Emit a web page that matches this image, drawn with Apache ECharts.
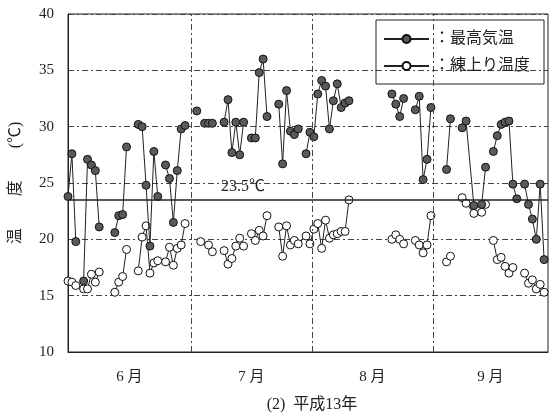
<!DOCTYPE html>
<html>
<head>
<meta charset="utf-8">
<script src="https://cdn.jsdelivr.net/npm/echarts@6/dist/echarts.min.js"></script>
<style>
  html, body { margin: 0; padding: 0; background: #fff; }
  #temp_chart { width: 550px; height: 420px; }
</style>
</head>
<body>
<div id="temp_chart"></div>
<script>
// 日付は5/31を0とした通し番号、null は欠測（線を切る）
var hiDays = [
    0, 1, 2, 3,
    4, 5, 6, 7, 8, 9,
    12, 13, 14, 15, 16,
    18, 19, 20, 21, 22, 23, 24,
    25, 26, 27, 28, 29, 30, 31,
    33, 34,
    35, 36, 37, 38,
    40, 41, 42, 43, 44, 45, 46,
    47, 48, 49, 50, 51, 52,
    54, 55, 56, 57, 58, 59, 60,
    61, 62, 63, 64, 65, 66, 67, 68, 69, 70, 71, 72, 73,
    83, 84, 85, 86, 87,
    89, 90, 91, 92, 93, 94,
    97, 98, 99,
    101, 102, 104, 106, 107, 108,
    109, 110, 111, 112, 113, 114, 115, 116,
    117, 118, 119, 120, 121, 122
];
var hiTemps = [
    23.8, 27.6, 19.8, null,
    16.3, 27.1, 26.6, 26.1, 21.1, null,
    20.6, 22.1, 22.2, 28.2, null,
    30.2, 30.0, 24.8, 19.4, 27.8, 23.8, null,
    26.6, 25.4, 21.5, 26.1, 29.8, 30.1, null,
    31.4, null,
    30.3, 30.3, 30.3, null,
    30.4, 32.4, 27.7, 30.4, 27.5, 30.4, null,
    29.0, 29.0, 34.8, 36.0, 30.9, null,
    32.0, 26.7, 33.2, 29.6, 29.3, 29.8, null,
    27.6, 29.5, 29.1, 32.9, 34.1, 33.6, 29.8, 32.3, 33.8, 31.7, 32.1, 32.3, null,
    32.9, 32.0, 30.9, 32.5, null,
    31.5, 32.7, 25.3, 27.1, 31.7, null,
    26.2, 30.7, null,
    29.9, 30.5, 23.0, 23.1, 26.4, null,
    27.8, 29.2, 30.2, 30.4, 30.5, 24.9, 23.6, null,
    24.9, 23.1, 21.8, 20.0, 24.9, 18.2
];
var mixDays = [
    0, 1, 2, 4, 5, 6, 7, 8, 9,
    12, 13, 14, 15, 16,
    18, 19, 20, 21, 22, 23, 24,
    25, 26, 27, 28, 29, 30, 31,
    34, 36, 37, 38,
    40, 41, 42, 43, 44, 45, 46,
    47, 48, 49, 50, 51, 52,
    54, 55, 56, 57, 58, 59, 61, 62, 63, 64, 65, 66, 67, 68, 69, 70, 71, 72, 73,
    83, 84, 85, 86, 87,
    89, 90, 91, 92, 93, 94,
    97, 98, 99,
    101, 102, 104, 106, 107, 108,
    109, 110, 111, 112, 113, 114, 115,
    117, 118, 119, 120, 121, 122
];
var mixTemps = [
    16.3, 16.2, 15.9, 15.6, 15.6, 16.9, 16.2, 17.1, null,
    15.3, 16.2, 16.7, 19.1, null,
    17.2, 20.2, 21.2, 17.0, 17.9, 18.1, null,
    18.0, 19.3, 17.7, 19.2, 19.5, 21.4, null,
    19.8, 19.5, 18.9, null,
    19.0, 17.8, 18.3, 19.4, 20.1, 19.4, null,
    20.5, 19.9, 20.8, 20.3, 22.1, null,
    21.1, 18.5, 21.2, 19.5, 19.9, 19.6, 20.3, 19.6, 20.9, 21.4, 19.2, 21.7, 20.1, 20.4, 20.5, 20.7, 20.7, 23.5, null,
    20.0, 20.4, 20.0, 19.6, null,
    19.9, 19.5, 18.8, 19.5, 22.1, null,
    18.0, 18.5, null,
    23.7, 23.2, 22.3, 22.4, 23.1, null,
    19.9, 18.2, 18.4, 17.6, 17.0, 17.5, null,
    17.0, 16.1, 16.4, 15.6, 16.0, 15.3
];
var monthNames = ['6 月', '7 月', '8 月', '9 月'];
var monthEdges = [31.5, 62.5, 93.5];   // 月の境目
var dayMax = 123;
var refTemp = 23.5;
var yTicks = [10, 15, 20, 25, 30, 35, 40];

var FONT = "'Liberation Serif', 'Noto Sans CJK JP', serif";

// 月ラベルは各月の中央に置く
var bounds = [0].concat(monthEdges, [dayMax]);
var monthCenters = monthNames.map(function (m, i) {
    return (bounds[i] + bounds[i + 1]) / 2;
});

var toPts = function (days, temps) {
    return days.map(function (d, i) { return [d, temps[i]]; });
};

var myChart = echarts.init(document.getElementById('temp_chart'));

var option = {
    backgroundColor: '#fff',
    animation: false,
    textStyle: { fontFamily: FONT },
    title: {
        text: '(2)  平成13年',
        left: 307,
        textAlign: 'center',
        bottom: 2,
        textStyle: { fontFamily: FONT, fontWeight: 'normal', fontSize: 16, color: '#222' }
    },
    legend: {
        left: 376,
        top: 20,
        orient: 'vertical',
        borderColor: '#222',
        borderWidth: 1,
        padding: [11, 14, 10, 7],
        itemGap: 11,
        itemWidth: 45,
        itemHeight: 10,
        formatter: '：{name}',
        textStyle: { fontFamily: FONT, fontSize: 16, color: '#222' },
        data: ['最高気温', '練上り温度']
    },
    grid: {
        left: 66,
        right: 2,
        top: 14,
        bottom: 68,
        show: true,
        borderColor: '#222',
        borderWidth: 1
    },
    xAxis: {
        type: 'value',
        min: 0,
        max: dayMax,
        axisLine: { lineStyle: { color: '#222', width: 1 } },
        axisTick: {
            show: true,
            inside: true,
            length: 6,
            customValues: monthEdges,
            lineStyle: { color: '#222' }
        },
        axisLabel: {
            customValues: monthCenters,
            margin: 18,
            fontSize: 15,
            color: '#222',
            fontFamily: FONT,
            formatter: function (v) {
                var best = 0;
                monthCenters.forEach(function (c, i) {
                    if (Math.abs(c - v) < Math.abs(monthCenters[best] - v)) best = i;
                });
                return monthNames[best];
            }
        },
        splitLine: { show: false }
    },
    yAxis: {
        type: 'value',
        min: yTicks[0],
        max: yTicks[yTicks.length - 1],
        interval: 5,
        name: '温　　度　　(℃)',
        nameLocation: 'middle',
        nameGap: 44,
        nameTextStyle: { fontFamily: FONT, fontSize: 16, color: '#222' },
        axisLine: { show: true, lineStyle: { color: '#222', width: 1 } },
        axisTick: { show: false },
        axisLabel: { margin: 14, fontSize: 15, color: '#222', fontFamily: FONT },
        splitLine: {
            lineStyle: { type: [6, 3, 2, 3], color: '#444', width: 1 }
        }
    },
    series: [{
        name: '最高気温',
        type: 'line',
        connectNulls: false,
        symbol: 'circle',
        symbolSize: 8,
        lineStyle: { color: '#222', width: 1 },
        itemStyle: { color: '#5a5a5a', borderColor: '#111', borderWidth: 1 },
        data: toPts(hiDays, hiTemps),
        z: 3,
        markLine: {
            silent: true,
            symbol: 'none',
            lineStyle: { type: 'solid', color: '#222', width: 1.5 },
            label: {
                show: true,
                position: 'insideStartTop',
                formatter: '23.5℃',
                padding: [0, 0, 0, 148],
                fontFamily: FONT,
                fontSize: 16,
                color: '#222'
            },
            data: [{ yAxis: refTemp }]
        }
    }, {
        name: '練上り温度',
        type: 'line',
        connectNulls: false,
        symbol: 'circle',
        symbolSize: 8,
        lineStyle: { color: '#222', width: 1 },
        itemStyle: { color: '#fff', borderColor: '#111', borderWidth: 1 },
        data: toPts(mixDays, mixTemps),
        z: 2,
        markLine: {
            silent: true,
            symbol: 'none',
            label: { show: false },
            lineStyle: { type: [6, 3, 2, 3], color: '#444', width: 1 },
            data: monthEdges.map(function (e) { return { xAxis: e }; })
        }
    }]
};

myChart.setOption(option);
</script>
</body>
</html>
